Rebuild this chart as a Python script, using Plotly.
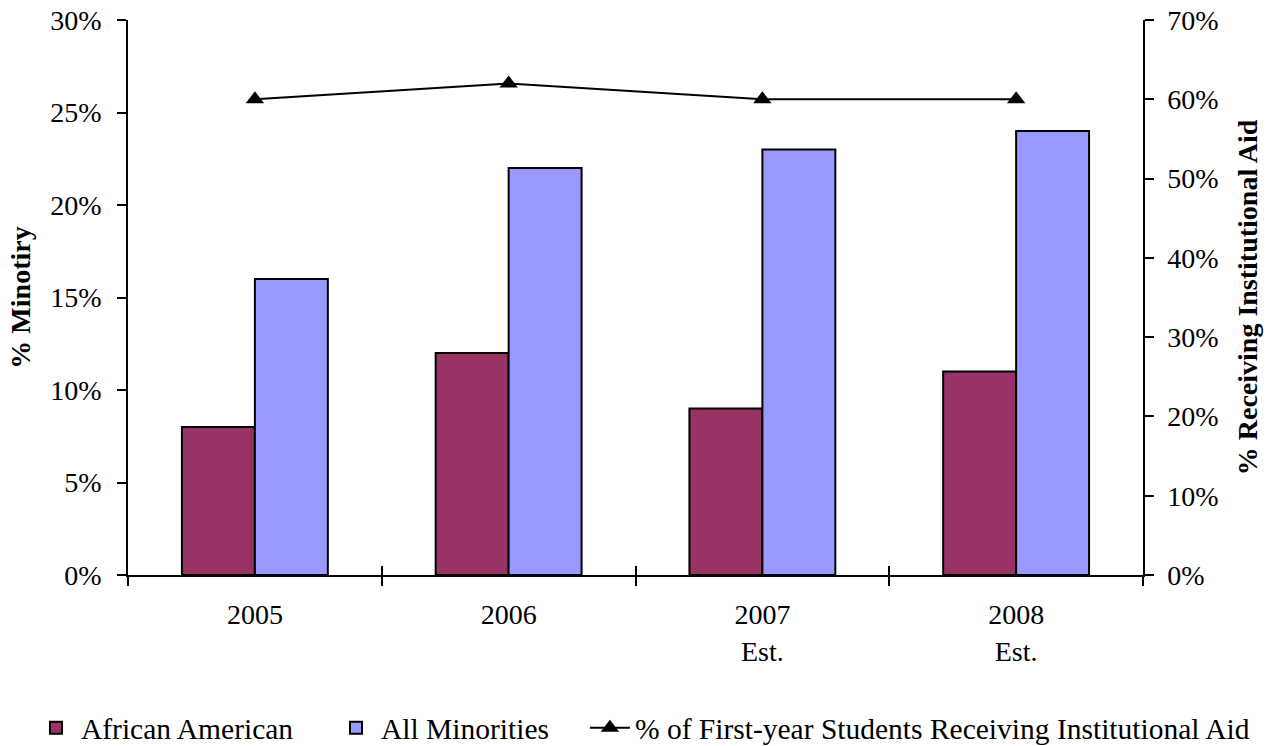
import plotly.graph_objects as go

categories = ["2005", "2006", "2007<br>Est.", "2008<br>Est."]
african_american = [8, 12, 9, 11]
all_minorities = [16, 22, 23, 24]
institutional_aid = [60, 62, 60, 60]
left_ticks = [0, 5, 10, 15, 20, 25, 30]
right_ticks = [0, 10, 20, 30, 40, 50, 60, 70]

FONT = "Liberation Serif"
FS = 28
LFS = 29.5

fig = go.Figure()
fig.add_trace(go.Bar(
    x=categories, y=african_american, name="African American",
    marker=dict(color="#993366", line=dict(color="black", width=2)),
    xaxis="x", yaxis="y", legend="legend",
))
fig.add_trace(go.Bar(
    x=categories, y=all_minorities, name="All Minorities",
    marker=dict(color="#9999FF", line=dict(color="black", width=2)),
    xaxis="x", yaxis="y", legend="legend2",
))
fig.add_trace(go.Scatter(
    x=categories, y=institutional_aid,
    name="% of First-year Students Receiving Institutional Aid",
    mode="lines+markers",
    line=dict(color="black", width=2),
    marker=dict(symbol="triangle-up", size=16, color="black"),
    xaxis="x2", yaxis="y2", legend="legend3",
))

cat_range = [-0.5, len(categories) - 0.5]


def leg(x):
    return dict(orientation="h", x=x, xanchor="left", y=-0.2757, yanchor="middle",
                font=dict(family=FONT, size=LFS, color="black"),
                bgcolor="rgba(0,0,0,0)", itemwidth=40)


fig.update_layout(
    width=1277, height=746,
    margin=dict(l=128, r=134, t=20, b=171, autoexpand=False),
    paper_bgcolor="white", plot_bgcolor="white",
    font=dict(family=FONT, size=FS, color="black"),
    barmode="group", bargap=0.425, bargroupgap=0,
    showlegend=True,
    legend=leg(-0.0956),
    legend2=leg(0.2),
    legend3=leg(0.4502),
    xaxis=dict(
        type="category", range=cat_range, showline=True, linecolor="black", linewidth=1.5,
        ticks="outside", ticklen=9, tickcolor="black", tickwidth=1.5,
        tickson="boundaries", showgrid=False, zeroline=False,
        tickfont=dict(family=FONT, size=FS), ticklabelstandoff=14,
    ),
    xaxis2=dict(
        type="category", range=cat_range, overlaying="x", anchor="y", side="bottom",
        showline=False, ticks="inside", ticklen=9, tickcolor="black", tickwidth=1.5,
        tickson="boundaries", showticklabels=False, showgrid=False, zeroline=False,
    ),
    xaxis3=dict(
        overlaying="x", anchor="y", side="top", showline=True, linecolor="#808080",
        linewidth=2, ticks="", showticklabels=False, showgrid=False, zeroline=False,
        range=[0, 1],
    ),
    yaxis=dict(
        range=[0, 30], tickvals=left_ticks, ticktext=[f"{v}%" for v in left_ticks],
        showline=True, linecolor="black", linewidth=1.5,
        ticks="outside", ticklen=9, tickcolor="black", tickwidth=1.5,
        showgrid=False, zeroline=False,
        title=dict(text="<b>% Minotiry</b>", font=dict(family=FONT, size=FS), standoff=12),
        tickfont=dict(family=FONT, size=FS), ticklabelstandoff=10,
    ),
    yaxis3=dict(
        overlaying="y", matches="y", anchor="x", side="left", showline=False,
        ticks="inside", ticklen=9, tickcolor="black", tickwidth=1.5,
        tickvals=left_ticks, showticklabels=False, showgrid=False, zeroline=False,
    ),
    yaxis2=dict(
        range=[0, 70], tickvals=right_ticks, ticktext=[f"{v}%" for v in right_ticks],
        overlaying="y", anchor="x2", side="right",
        showline=True, linecolor="black", linewidth=1.5,
        ticks="outside", ticklen=9, tickcolor="black", tickwidth=1.5,
        showgrid=False, zeroline=False,
        title=dict(text="<b>% Receiving Institutional Aid</b>", font=dict(family=FONT, size=FS), standoff=20),
        tickfont=dict(family=FONT, size=FS), ticklabelstandoff=8,
    ),
    yaxis4=dict(
        overlaying="y", matches="y2", anchor="x", side="right", showline=False,
        ticks="inside", ticklen=9, tickcolor="black", tickwidth=1.5,
        tickvals=right_ticks, showticklabels=False, showgrid=False, zeroline=False,
    ),
)

fig.write_html("out.html")
